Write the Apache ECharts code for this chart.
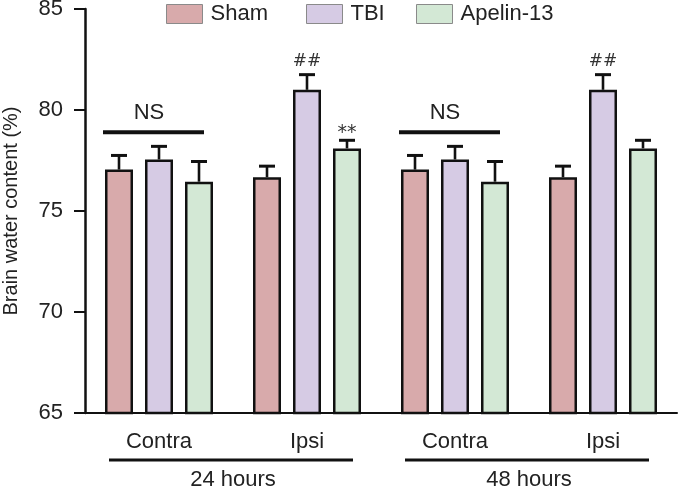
<!DOCTYPE html>
<html>
<head>
<meta charset="utf-8">
<script src="https://cdn.jsdelivr.net/npm/echarts@6/dist/echarts.min.js"></script>
<style>html,body{margin:0;padding:0;background:#fff;}#c{width:685px;height:488px;}</style>
</head>
<body>
<div id="c"></div>
<script>
var categories = ['Contra', 'Ipsi', 'Contra', 'Ipsi'];
var seriesNames = ['Sham', 'TBI', 'Apelin-13'];
var shamMean = [77.05, 76.67, 77.05, 76.67];
var shamErr = [0.7, 0.55, 0.7, 0.55];
var tbiMean = [77.55, 81.0, 77.55, 81.0];
var tbiErr = [0.65, 0.75, 0.65, 0.75];
var apelinMean = [76.45, 78.1, 76.45, 78.1];
var apelinErr = [1.0, 0.4, 1.0, 0.4];
var tbiMarks = ['', '##', '', '##'];
var apelinMarks = ['', '**', '', ''];
var nsGroups = [0, 2];
var nsLevel = 78.9;
var timeGroups = [[0, 1, '24 hours'], [2, 3, '48 hours']];
var yTicks = [65, 70, 75, 80, 85];

var colors = ['#d8aaab', '#d6cbe4', '#d3e8d5'];
var FONT = 'Liberation Sans, Arial, sans-serif';
var BAR_W = 28, BAR_STEP = 40;

var means = [shamMean, tbiMean, apelinMean];
var errs = [shamErr, tbiErr, apelinErr];
var marks = [['', '', '', ''], tbiMarks, apelinMarks];

function errSeries(k) {
  var data = means[k].map(function (m, i) { return [i, m, errs[k][i], marks[k][i]]; });
  return {
    type: 'custom',
    name: seriesNames[k] + ' err',
    z: 5,
    data: data,
    renderItem: function (params, api) {
      var c = api.coord([api.value(0), api.value(1)]);
      var t = api.coord([api.value(0), api.value(1) + api.value(2)]);
      var x = c[0] + (k - 1) * BAR_STEP;
      var children = [
        { type: 'line', shape: { x1: x, y1: c[1], x2: x, y2: t[1] }, style: { stroke: '#111', lineWidth: 2.6 } },
        { type: 'line', shape: { x1: x - 8, y1: t[1], x2: x + 8, y2: t[1] }, style: { stroke: '#111', lineWidth: 3 } }
      ];
      var mk = data[params.dataIndex][3];
      if (mk) {
        var isStar = mk.indexOf('*') >= 0;
        children.push({ type: 'text', style: { text: mk, x: x, y: t[1] - (isStar ? -2 : 5), align: 'center', verticalAlign: 'bottom', font: (isStar ? '19px ' : '17px ') + 'DejaVu Sans, sans-serif', fill: '#333' } });
      }
      return { type: 'group', children: children };
    }
  };
}

var series = [];
for (var k = 0; k < 3; k++) {
  series.push({
    type: 'bar',
    name: seriesNames[k],
    data: means[k],
    barWidth: BAR_W,
    barGap: ((BAR_STEP - BAR_W) / BAR_W * 100) + '%',
    itemStyle: { color: colors[k], borderColor: '#111', borderWidth: 2.5 },
    emphasis: { disabled: true }
  });
}
for (var k2 = 0; k2 < 3; k2++) series.push(errSeries(k2));

series.push({
  type: 'custom',
  name: 'NS',
  z: 6,
  data: nsGroups.map(function (g) { return [g, nsLevel]; }),
  renderItem: function (params, api) {
    var p = api.coord([api.value(0), api.value(1)]);
    return { type: 'group', children: [
      { type: 'line', shape: { x1: p[0] - 56, y1: p[1], x2: p[0] + 45, y2: p[1] }, style: { stroke: '#111', lineWidth: 4 } },
      { type: 'text', style: { text: 'NS', x: p[0] - 10, y: p[1] - 8, align: 'center', verticalAlign: 'bottom', font: '22px ' + FONT, fill: '#222' } }
    ] };
  }
});

series.push({
  type: 'custom',
  name: 'time',
  z: 6,
  clip: false,
  data: timeGroups.map(function (g) { return [g[0], g[1], g[2]]; }),
  renderItem: function (params, api) {
    var a = api.coord([api.value(0), yTicks[0]]);
    var b = api.coord([api.value(1), yTicks[0]]);
    var label = timeGroups[params.dataIndex][2];
    return { type: 'group', children: [
      { type: 'line', shape: { x1: a[0] - 50, y1: a[1] + 47, x2: b[0] + 46, y2: a[1] + 47 }, style: { stroke: '#111', lineWidth: 3 } },
      { type: 'text', style: { text: label, x: (a[0] + b[0]) / 2, y: a[1] + 67, align: 'center', verticalAlign: 'middle', font: '22px ' + FONT, fill: '#222' } }
    ] };
  }
});

function legendAt(name, left) {
  return {
    data: [name], left: left, top: 3, padding: 0, itemWidth: 36, itemHeight: 19,
    icon: 'rect',
    itemStyle: { borderColor: '#8a8a8a', borderWidth: 1 },
    textStyle: { fontFamily: FONT, fontSize: 22, color: '#222', padding: [0, 0, 0, 3] },
    selectedMode: false
  };
}

var option = {
  animation: false,
  backgroundColor: '#fff',
  textStyle: { fontFamily: FONT },
  legend: [legendAt('Sham', 166), legendAt('TBI', 306), legendAt('Apelin-13', 416)],
  grid: { left: 85, right: 8, top: 9, bottom: 75, containLabel: false, outerBoundsMode: 'none' },
  xAxis: {
    type: 'category',
    data: categories,
    axisLine: { lineStyle: { color: '#111', width: 2 } },
    axisTick: { alignWithLabel: true, length: 12, lineStyle: { color: '#111', width: 2 } },
    axisLabel: { fontSize: 22, color: '#222', margin: 18, fontFamily: FONT }
  },
  yAxis: {
    type: 'value',
    min: yTicks[0], max: yTicks[yTicks.length - 1], interval: 5,
    name: 'Brain water content (%)',
    nameLocation: 'middle',
    nameGap: 64,
    nameTextStyle: { fontSize: 20, color: '#222', fontFamily: FONT },
    axisLine: { show: true, lineStyle: { color: '#111', width: 2.5 } },
    axisTick: { show: true, length: 11, lineStyle: { color: '#111', width: 2 } },
    axisLabel: { fontSize: 22, color: '#222', margin: 22, fontFamily: FONT },
    splitLine: { show: false }
  },
  series: series
};

var chart = echarts.init(document.getElementById('c'));
chart.setOption(option);
</script>
</body>
</html>
